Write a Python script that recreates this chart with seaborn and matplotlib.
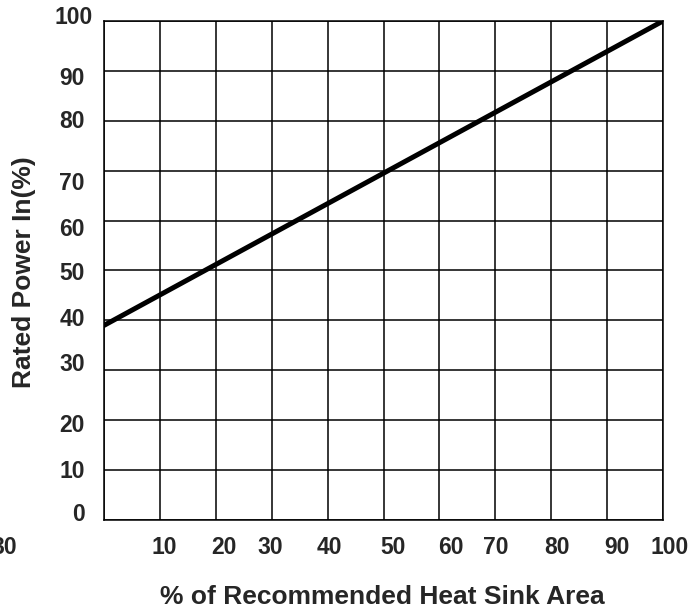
import matplotlib
matplotlib.use("Agg")
import matplotlib.pyplot as plt
import seaborn as sns
import pandas as pd
import numpy as np

# Data
heat_sink_area = [0, 100]
rated_power = [39, 100]

# Tick label texts and where they sit (as printed in the reference)
x_tick_labels = ["30", "10", "20", "30", "40", "50", "60", "70", "80", "90", "100"]
x_tick_label_pos = [-17.9, 10.7, 21.5, 29.7, 40.4, 51.7, 62.1, 70.1, 81.0, 91.8, 101.1]
y_tick_labels = ["100", "90", "80", "70", "60", "50", "40", "30", "20", "10", "0"]
y_tick_label_pos = [100.8, 88.4, 79.8, 67.5, 58.3, 49.3, 40.1, 31.1, 19.0, 9.8, 1.2]
grid_values = list(range(0, 101, 10))

sns.set_theme(style="white")
plt.rcParams['font.family'] = ['Liberation Sans', 'DejaVu Sans']

fig = plt.figure(figsize=(6.99, 6.10), dpi=100)
ax = fig.add_axes([104/699, 1-520/610, (663-104)/699, (520-21)/610])

df = pd.DataFrame({"area": heat_sink_area, "power": rated_power})
sns.lineplot(data=df, x="area", y="power", ax=ax, color="black", linewidth=3.6, zorder=5)

ax.set_xlim(0, 100)
ax.set_ylim(0, 100)
ax.set_xticks(grid_values)
ax.set_yticks(grid_values)
ax.set_xticklabels([])
ax.set_yticklabels([])
ax.tick_params(length=0)
ax.grid(True, color="black", linewidth=1.1)
for s in ax.spines.values():
    s.set_color("black")
    s.set_linewidth(1.1)
ax.set_xlabel("")
ax.set_ylabel("")

fs = 16.5
for lab, pos in zip(x_tick_labels, x_tick_label_pos):
    ax.text(pos, -5.5, lab, ha="center", va="center", fontsize=fs, fontweight="bold",
            transform=ax.transData, clip_on=False)
for lab, pos in zip(y_tick_labels, y_tick_label_pos):
    ax.text(-3.4 if lab != "100" else -2.1, pos, lab, ha="right", va="center", fontsize=fs,
            fontweight="bold", clip_on=False)

fig.text(382/699, 1-597/610, "% of Recommended Heat Sink Area", ha="center", va="center",
         fontsize=19, fontweight="bold")
fig.text(24/699, 1-272/610, "Rated Power In(%)", ha="center", va="center", rotation=90,
         fontsize=19, fontweight="bold")

fig.savefig("out.png", dpi=100)
